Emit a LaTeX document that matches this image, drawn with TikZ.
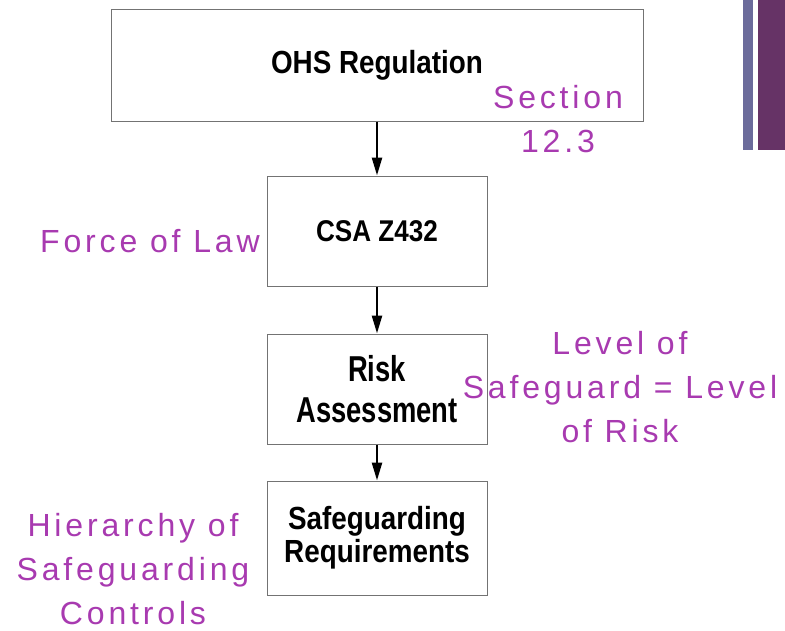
\documentclass[tikz,border=0pt]{standalone}
\usepackage{fontspec}
\setmainfont{Liberation Sans}
\newfontfamily\notefont[LetterSpace=12]{Liberation Sans}
\newfontfamily\boxfont[FakeStretch=0.87]{Liberation Sans}
\newfontfamily\riskfont[FakeStretch=0.76]{Liberation Sans}
\usepackage{tikz}
\usetikzlibrary{arrows.meta,positioning,calc}
\definecolor{notepurple}{RGB}{168,58,176}
\definecolor{barblue}{RGB}{107,107,155}
\definecolor{barplum}{RGB}{102,51,102}

\begin{document}
\begin{tikzpicture}[
    x=1pt, y=-1pt,
    stage/.style = {rectangle, draw=black!55, line width=1pt, minimum width=220pt, minimum height=110pt, align=center, font=\fontsize{32}{33}\selectfont\boxfont\bfseries},
    note/.style = {inner sep=0pt, align=center, text=notepurple, font=\fontsize{32}{44}\selectfont\notefont},
    flow/.style = {-{Triangle[length=18pt,width=10pt]}, line width=2.5pt}
]
    \useasboundingbox (0,0) rectangle (785,630);
    % Side bars
    \fill[barblue] (743,0) rectangle (753,150);
    \fill[barplum] (758,0) rectangle (785,150);
    % Boxes
    \node[stage, minimum width=532pt, minimum height=112pt] (ohs) at (377,65) {OHS Regulation};
    \node[stage, font=\fontsize{30}{33}\selectfont\boxfont\bfseries] (csa) at (377,231) {CSA Z432};
    \node[stage, font=\fontsize{36}{41}\selectfont\riskfont\bfseries] (risk) at (377,389) {Risk\\Assessment};
    \node[stage, minimum height=114pt] (safe) at (377,538) {Safeguarding\\Requirements};
    % Notes
    \node[note] (sect) at (558,119) {Section\\12.3};
    \node[note] (law) at (150,241) {Force of Law};
    \node[note] (level) at (620,387) {Level of\\Safeguard = Level\\of Risk};
    \node[note] (hier) at (133,569) {Hierarchy of\\Safeguarding\\Controls};
    % Arrows
    \draw[flow] (ohs) -- (csa);
    \draw[flow] (csa) -- (risk);
    \draw[flow] (risk) -- (safe);
\end{tikzpicture}
\end{document}
